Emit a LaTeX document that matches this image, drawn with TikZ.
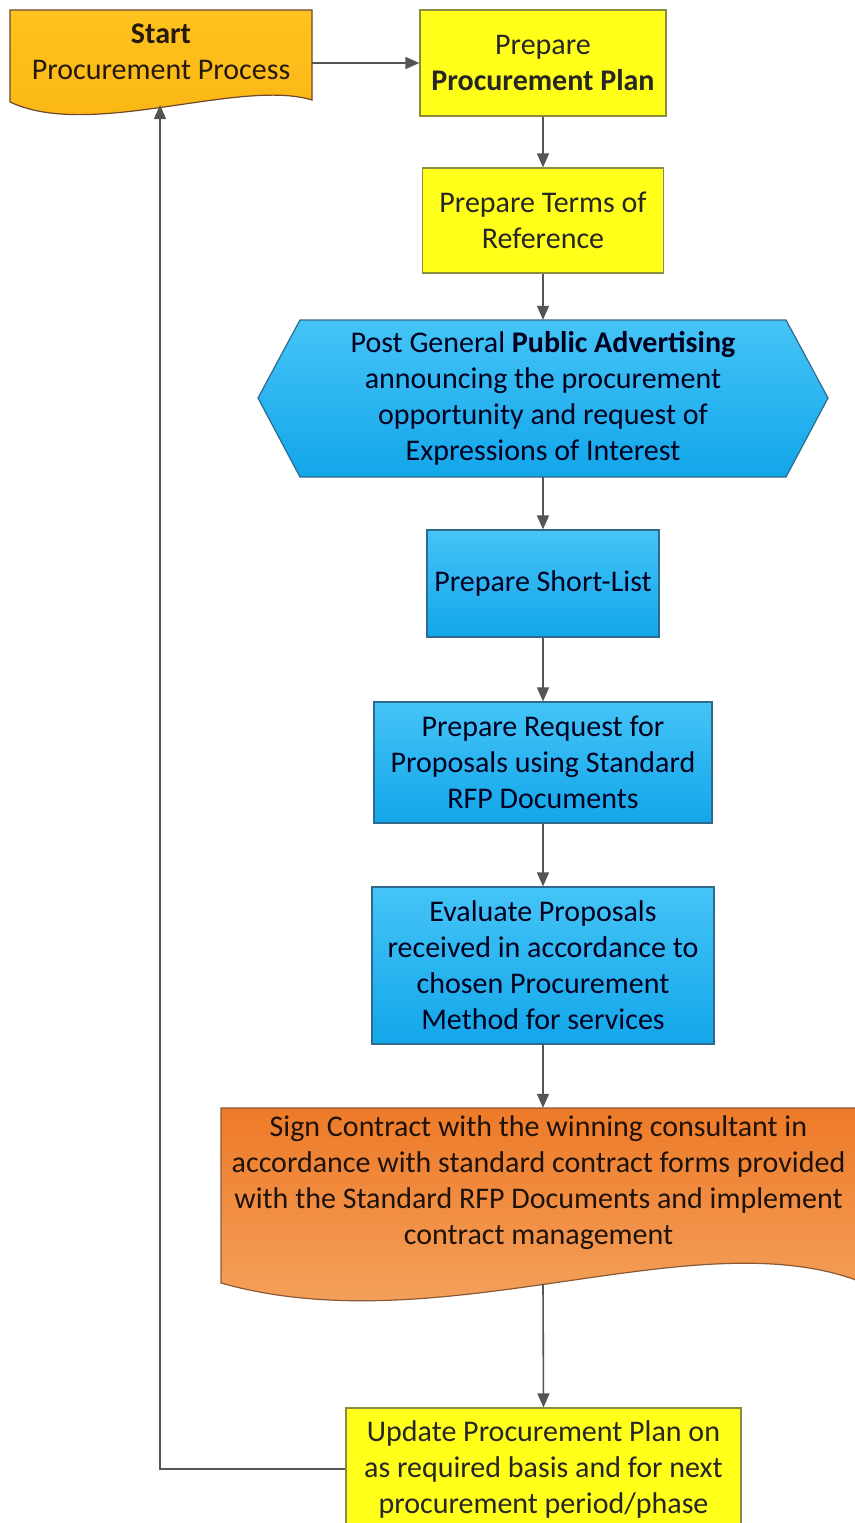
\documentclass[tikz,border=0pt]{standalone}
\usepackage{fontspec}
\setmainfont{Carlito}
\usetikzlibrary{arrows.meta}
\definecolor{ybox}{HTML}{FFFF1A}
\definecolor{yline}{HTML}{8C8C40}
\definecolor{bline}{HTML}{2F6A8E}
\definecolor{btop}{HTML}{45C4F6}
\definecolor{bbot}{HTML}{12A6EA}
\definecolor{otop}{HTML}{EE7A28}
\definecolor{obot}{HTML}{F5A866}
\definecolor{oline}{HTML}{8A5A35}
\definecolor{stop}{HTML}{FFC21E}
\definecolor{sbot}{HTML}{F9B515}
\definecolor{aline}{HTML}{555555}
\begin{document}
\begin{tikzpicture}[x=1pt,y=-1pt,
  txt/.style={align=center,inner sep=0pt,font=\fontsize{30}{36}\selectfont},
  ybx/.style={txt,draw=yline,fill=ybox,line width=1.2pt,text=black!85},
  bbx/.style={txt,draw=bline,top color=btop,bottom color=bbot,line width=1.2pt,text=black!80!blue!60!black},
  ghost/.style={txt,draw=none},
  arr/.style={draw=aline,line width=1.6pt,-{Triangle[length=14pt,width=12pt]}}]
\useasboundingbox (0,0) rectangle (854,1523);
\fill[white] (0,0) rectangle (854,1523);
% start document shape
\draw[draw=oline!80!black,line width=1.2pt,top color=stop,bottom color=sbot]
  (10,10) -- (312,10) -- (312,100) .. controls (240,78) and (90,140) .. (10,102) -- cycle;
\node[ghost,minimum width=302pt,minimum height=90pt,text=black!80!brown] (start) at (161,52) {\textbf{Start}\\Procurement Process};
\coordinate (startbot) at (160,105);
% rectangles
\node[ybx,minimum width=246pt,minimum height=106pt] (plan) at (543,63) {Prepare\\\textbf{Procurement Plan}};
\node[ybx,minimum width=241pt,minimum height=105pt] (terms) at (543,220.5) {Prepare Terms of\\Reference};
% hexagon
\draw[draw=bline,line width=1.2pt,top color=btop,bottom color=bbot]
  (300,320) -- (786,320) -- (828,398) -- (786,477) -- (300,477) -- (258,398) -- cycle;
\node[ghost,minimum width=570pt,minimum height=157pt,text=black!80!blue!60!black] (adv) at (543,398.5)
  {Post General \textbf{Public Advertising}\\announcing the procurement\\opportunity and request of\\Expressions of Interest};
\node[bbx,minimum width=232pt,minimum height=107pt] (short) at (543,583.5) {Prepare Short-List};
\node[bbx,minimum width=338pt,minimum height=121pt] (rfp) at (543,762.5) {Prepare Request for\\Proposals using Standard\\RFP Documents};
\node[bbx,minimum width=342pt,minimum height=157pt] (eval) at (543,965.5) {Evaluate Proposals\\received in accordance to\\chosen Procurement\\Method for services};
% orange document shape
\draw[draw=oline,line width=1.2pt,top color=otop,bottom color=obot]
  (221,1108) -- (856,1108) -- (856,1280) .. controls (690,1220) and (440,1345) .. (221,1283) -- cycle;
\node[ghost,minimum width=635pt,minimum height=150pt,text=black!85!brown] (sign) at (538.5,1183)
  {Sign Contract with the winning consultant in\\accordance with standard contract forms provided\\with the Standard RFP Documents and implement\\contract management};
\coordinate (signbot) at (543,1284);
\node[ybx,minimum width=395pt,minimum height=122pt] (update) at (543.5,1469) {Update Procurement Plan on\\as required basis and for next\\procurement period/phase};
% connectors
\draw[arr] (start.east |- plan) -- (plan.west);
\draw[arr] (plan) -- (terms);
\draw[arr] (terms.south) -- (adv.north);
\draw[arr] (adv.south) -- (short.north);
\draw[arr] (short) -- (rfp);
\draw[arr] (rfp) -- (eval);
\draw[arr] (eval.south) -- (eval.south |- sign.north);
\draw[arr] (signbot) -- (update.north);
\draw[arr] (update.west) -| (startbot);
\end{tikzpicture}
\end{document}
